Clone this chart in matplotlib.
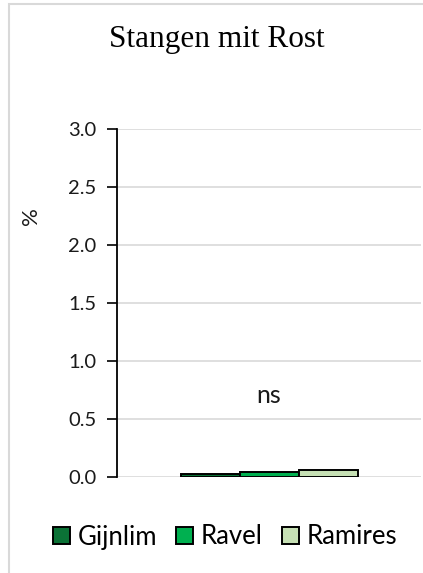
import matplotlib
matplotlib.use("Agg")
import matplotlib.pyplot as plt
from matplotlib.patches import Rectangle

# Data
categories = ["Stangen mit Rost"]
series_names = ["Gijnlim", "Ravel", "Ramires"]
series_values = [0.03, 0.04, 0.06]
series_colors = ["#0b7236", "#00b050", "#c6e0b4"]
yticks = [0.0, 0.5, 1.0, 1.5, 2.0, 2.5, 3.0]
annotation = "ns"
annotation_y = 0.70

W, H = 423, 573
fig = plt.figure(figsize=(W / 100, H / 100), dpi=100)
fig.patch.set_facecolor("white")

# outer chart frame
fig.add_artist(Rectangle((9 / W, -0.1), 1.2, 1 - 4 / H + 0.1,
                         transform=fig.transFigure, fill=False,
                         edgecolor="#d9d9d9", linewidth=1.5))

left, right = 117 / W, 421 / W
bottom, top = 1 - 477 / H, 1 - 129 / H
ax = fig.add_axes([left, bottom, right - left, top - bottom])

bar_w = 59 / 304
offsets = [-bar_w, 0, bar_w]
bars = []
for name, val, col, off in zip(series_names, series_values, series_colors, offsets):
    b = ax.bar(off, val, width=bar_w, color=col, edgecolor="black",
               linewidth=1.4, label=name, zorder=3)
    bars.append(b)

ax.set_xlim(-0.5, 0.5)
ax.set_ylim(0, 3.0)
ax.set_yticks(yticks)
ax.set_yticklabels([f"{t:.1f}" for t in yticks], family="Lato", fontsize=14.5,
                   color="#1a1a1a")
ax.set_xticks([])
ax.grid(axis="y", color="#d9d9d9", linewidth=1.2, zorder=0)
ax.tick_params(axis="y", direction="out", length=7, width=1.2, pad=8)
for s in ["top", "right", "bottom"]:
    ax.spines[s].set_visible(False)
ax.spines["left"].set_linewidth(1.3)
ax.spines["left"].set_color("black")
ax.set_axisbelow(True)

ax.text(0, annotation_y, annotation, ha="center", va="center",
        family="Lato", fontsize=18, color="#1a1a1a")

fig.text(31 / W, 1 - 216 / H, "%", rotation=90, ha="center", va="center",
         family="Lato", fontsize=16, color="#1a1a1a")

fig.text(217 / W, 1 - 39 / H, categories[0], ha="center", va="center",
         family="Liberation Serif", fontsize=22.5, color="black")

leg = fig.legend(handles=[b[0] for b in bars], labels=series_names,
                 loc="center", bbox_to_anchor=(225 / W, 1 - 537 / H),
                 ncol=3, frameon=False, prop={"family": "Lato", "size": 18.5},
                 handlelength=0.65, handleheight=0.65, handletextpad=0.3,
                 columnspacing=0.75, borderaxespad=0)
for t in leg.get_texts():
    t.set_color("black")

fig.savefig("out.png", dpi=100, facecolor="white")
